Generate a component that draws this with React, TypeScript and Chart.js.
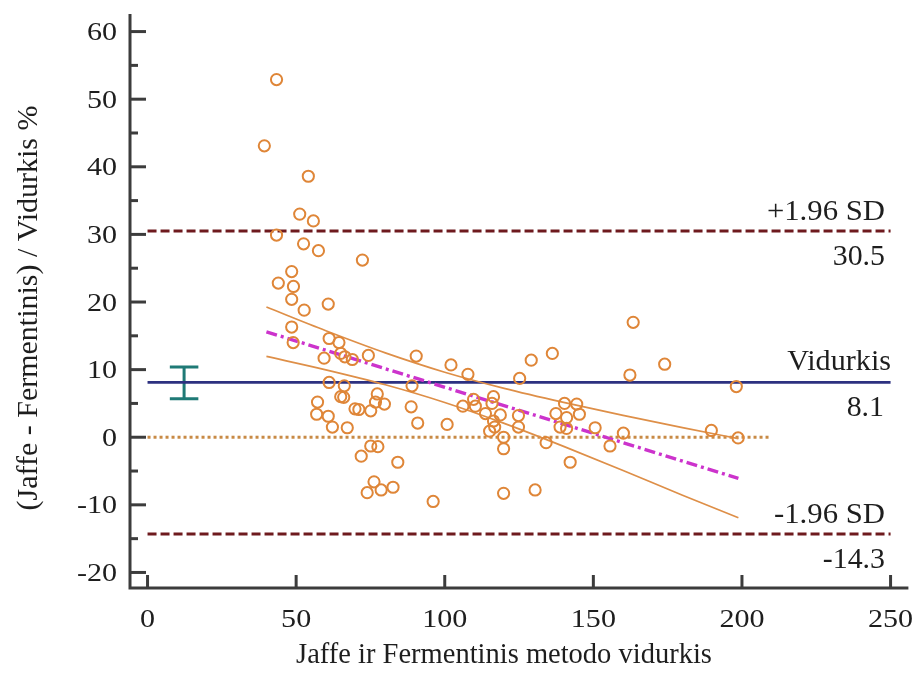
import React, { useEffect, useRef } from "react";
import { Chart, registerables } from "chart.js";

Chart.register(...registerables);

// ---- data ----
const xTicks = [0, 50, 100, 150, 200, 250];
const yTicks = [-20, -10, 0, 10, 20, 30, 40, 50, 60];
const yMinorTicks = [-15, -5, 5, 15, 25, 35, 45, 55];

const avgValues = [
  43.4, 39.3, 54.1, 51.2, 55.8, 43.4, 52.5, 57.5, 72.3, 48.5, 44.0, 49.1, 48.5, 60.8, 52.7,
  48.5, 61.1, 64.4, 49.0, 59.4, 65.0, 66.4, 68.9, 74.3, 90.4, 61.1, 66.2, 89.0, 57.2, 65.0,
  66.0, 77.3, 76.7, 79.7, 56.9, 60.8, 62.2, 67.2, 69.8, 71.1, 75.1, 88.7, 90.9, 75.1, 77.5,
  71.9, 84.2, 76.2, 73.9, 78.6, 82.6, 96.1,
  102.1, 107.8, 125.2, 129.1, 136.2, 163.4, 162.3, 100.8, 106.1, 110.3, 109.7, 116.4, 115.9,
  113.7, 118.7, 116.4, 116.8, 115.1, 119.8, 119.8, 124.8, 124.8, 134.1, 140.3, 144.4, 145.3,
  137.4, 141.0, 138.8, 141.0, 150.6, 155.6, 160.1, 142.2, 119.8, 130.4,
  174.0, 198.1, 189.7, 198.7,
];
const diffPctValues = [
  52.9, 43.1, 38.6, 33.0, 32.0, 29.9, 28.6, 27.6, 26.2, 24.5, 22.8, 22.3, 20.4, 19.7, 18.8,
  16.3, 14.6, 14.0, 14.0, 11.7, 12.4, 11.9, 11.5, 12.1, 12.0, 8.1, 7.6, 7.6, 5.2, 6.0,
  5.9, 6.4, 5.2, 4.9, 3.4, 3.1, 1.5, 1.4, 4.2, 4.1, 3.9, 4.5, 2.1, -1.3, -1.4,
  -2.8, -3.7, -6.6, -8.2, -7.8, -7.4, -9.5,
  10.7, 9.3, 8.7, 11.4, 12.4, 17.0, 9.2, 1.9, 4.6, 4.6, 5.6, 6.0, 5.0,
  3.5, 3.3, 2.4, 1.5, 0.9, 0.0, -1.7, 3.2, 1.5, -0.8, 5.0, 4.9, 3.4,
  3.5, 2.9, 1.5, 1.3, 1.4, -1.3, 0.6, -3.7, -8.3, -7.8,
  10.8, 7.5, 1.0, -0.1,
];

const meanDiff = 8.1;
const upperLoA = 30.5;
const lowerLoA = -14.3;
const loaXRange = [0, 250];
const zeroLineXRange = [0, 209];
const meanCI = [5.7, 10.4];
const meanCIX = 12.3;
const meanCICapX = [7.5, 17.1];

const regX = [40, 198.8];
const regY = [15.6, -6.1];
const bandX = [40, 60, 80, 100, 120, 140, 160, 180, 198.8];
const bandUpper = [19.25, 15.75, 12.48, 9.62, 7.23, 5.15, 3.23, 1.41, -0.2];
const bandLower = [11.95, 9.97, 7.76, 5.14, 2.05, -1.35, -4.91, -8.57, -11.9];

const xTitle = "Jaffe ir Fermentinis metodo vidurkis";
const yTitle = "(Jaffe - Fermentinis) / Vidurkis %";
const upperLabel = "+1.96 SD";
const meanLabel = "Vidurkis";
const lowerLabel = "-1.96 SD";

const FONT = '"Liberation Serif", "Times New Roman", serif';

function drawText(ctx: CanvasRenderingContext2D, s: string, x: number, y: number, align: CanvasTextAlign, size: number, sx = 1) {
  ctx.save();
  ctx.translate(x, y);
  ctx.scale(sx, 1);
  ctx.font = `${size}px ${FONT}`;
  ctx.textAlign = align;
  ctx.textBaseline = "alphabetic";
  ctx.fillText(s, 0, 0);
  ctx.restore();
}

const decorPlugin = {
  id: "decor",
  afterDatasetsDraw(chart: any) {
    const { ctx, chartArea } = chart;
    const xs = chart.scales.x;
    const ys = chart.scales.y;
    ctx.save();
    ctx.strokeStyle = "#3c3c3c";
    ctx.lineWidth = 3;
    ctx.lineCap = "butt";
    ctx.beginPath();
    ctx.moveTo(chartArea.left, chartArea.top);
    ctx.lineTo(chartArea.left, chartArea.bottom);
    ctx.lineTo(chartArea.right, chartArea.bottom);
    ctx.stroke();

    ctx.fillStyle = "#1e1e1e";
    // y ticks
    yTicks.forEach((v) => {
      const py = ys.getPixelForValue(v);
      ctx.beginPath();
      ctx.moveTo(chartArea.left, py);
      ctx.lineTo(chartArea.left + 16, py);
      ctx.stroke();
      drawText(ctx, String(v), 117, py + 8.5, "right", 25.5, 1.18);
    });
    yMinorTicks.forEach((v) => {
      const py = ys.getPixelForValue(v);
      ctx.beginPath();
      ctx.moveTo(chartArea.left, py);
      ctx.lineTo(chartArea.left + 8, py);
      ctx.stroke();
    });
    // x ticks
    xTicks.forEach((v) => {
      const px = xs.getPixelForValue(v);
      ctx.beginPath();
      ctx.moveTo(px, chartArea.bottom);
      ctx.lineTo(px, chartArea.bottom - 13);
      ctx.stroke();
      drawText(ctx, String(v), px, 627, "center", 25.5, 1.18);
    });

    // titles
    drawText(ctx, xTitle, 504, 663, "center", 28.5);
    ctx.save();
    ctx.translate(37, 308);
    ctx.rotate(-Math.PI / 2);
    ctx.font = `30px ${FONT}`;
    ctx.textAlign = "center";
    ctx.textBaseline = "alphabetic";
    ctx.fillText(yTitle, 0, 0);
    ctx.restore();

    // right-side labels
    const pu = ys.getPixelForValue(upperLoA);
    const pm = ys.getPixelForValue(meanDiff);
    const pl = ys.getPixelForValue(lowerLoA);
    drawText(ctx, upperLabel, 885, pu - 11, "right", 29, 1.06);
    drawText(ctx, upperLoA.toFixed(1), 885, pu + 34, "right", 29, 1.03);
    drawText(ctx, meanLabel, 891, pm - 12, "right", 29, 1.04);
    drawText(ctx, meanDiff.toFixed(1), 884, pm + 34, "right", 29, 1.03);
    drawText(ctx, lowerLabel, 885, pl - 11, "right", 29, 1.06);
    drawText(ctx, lowerLoA.toFixed(1), 885, pl + 34, "right", 29, 1.03);
    ctx.restore();
  },
};

function hLine(y: number, range: number[]) {
  return [
    { x: range[0], y },
    { x: range[1], y },
  ];
}

export default function App() {
  const ref = useRef<HTMLCanvasElement | null>(null);
  useEffect(() => {
    if (!ref.current) return;
    const lineBase = { showLine: true, pointRadius: 0, fill: false, tension: 0 };
    const chart = new Chart(ref.current, {
      type: "scatter",
      data: {
        datasets: [
          {
            label: "points",
            data: avgValues.map((x, i) => ({ x, y: diffPctValues[i] })),
            pointRadius: 5.6,
            pointBorderWidth: 2,
            pointBorderColor: "#df8638",
            pointBackgroundColor: "rgba(0,0,0,0)",
            showLine: false,
          },
          {
            ...lineBase,
            label: "regression",
            data: [
              { x: regX[0], y: regY[0] },
              { x: regX[1], y: regY[1] },
            ],
            borderColor: "#cc33cc",
            borderWidth: 3.4,
            borderDash: [11, 4, 3, 4],
          },
          {
            ...lineBase,
            label: "ci upper",
            data: bandX.map((x, i) => ({ x, y: bandUpper[i] })),
            borderColor: "#de8f48",
            borderWidth: 1.7,
            cubicInterpolationMode: "monotone",
          },
          {
            ...lineBase,
            label: "ci lower",
            data: bandX.map((x, i) => ({ x, y: bandLower[i] })),
            borderColor: "#de8f48",
            borderWidth: 1.7,
            cubicInterpolationMode: "monotone",
          },
          {
            ...lineBase,
            label: "mean",
            data: hLine(meanDiff, loaXRange),
            borderColor: "#2d3180",
            borderWidth: 2.8,
          },
          {
            ...lineBase,
            label: "upper",
            data: hLine(upperLoA, loaXRange),
            borderColor: "#6e1a1e",
            borderWidth: 3,
            borderDash: [9, 4],
          },
          {
            ...lineBase,
            label: "lower",
            data: hLine(lowerLoA, loaXRange),
            borderColor: "#6e1a1e",
            borderWidth: 3,
            borderDash: [9, 4],
          },
          {
            ...lineBase,
            label: "zero",
            data: hLine(0, zeroLineXRange),
            borderColor: "#c88a45",
            borderWidth: 3,
            borderDash: [3, 3],
          },
          {
            ...lineBase,
            label: "ci mean",
            data: [
              { x: meanCIX, y: meanCI[0] },
              { x: meanCIX, y: meanCI[1] },
            ],
            borderColor: "#1f7a76",
            borderWidth: 3,
          },
          {
            ...lineBase,
            label: "ci mean top",
            data: hLine(meanCI[1], meanCICapX),
            borderColor: "#1f7a76",
            borderWidth: 3,
          },
          {
            ...lineBase,
            label: "ci mean bottom",
            data: hLine(meanCI[0], meanCICapX),
            borderColor: "#1f7a76",
            borderWidth: 3,
          },
        ],
      },
      options: {
        responsive: false,
        animation: false,
        events: [],
        layout: { padding: { left: 130, top: 14, right: 6, bottom: 85 } },
        plugins: { legend: { display: false }, tooltip: { enabled: false } },
        scales: {
          x: { type: "linear", min: -5.9, max: 256, display: false },
          y: { type: "linear", min: -22.3, max: 62.6, display: false },
        },
      },
      plugins: [decorPlugin],
    } as any);
    return () => chart.destroy();
  }, []);

  return (
    <div style={{ position: "fixed", left: 0, top: 0, width: 916, height: 673, background: "#fff" }}>
      <canvas ref={ref} width={916} height={673} style={{ display: "block", width: 916, height: 673 }} />
    </div>
  );
}
